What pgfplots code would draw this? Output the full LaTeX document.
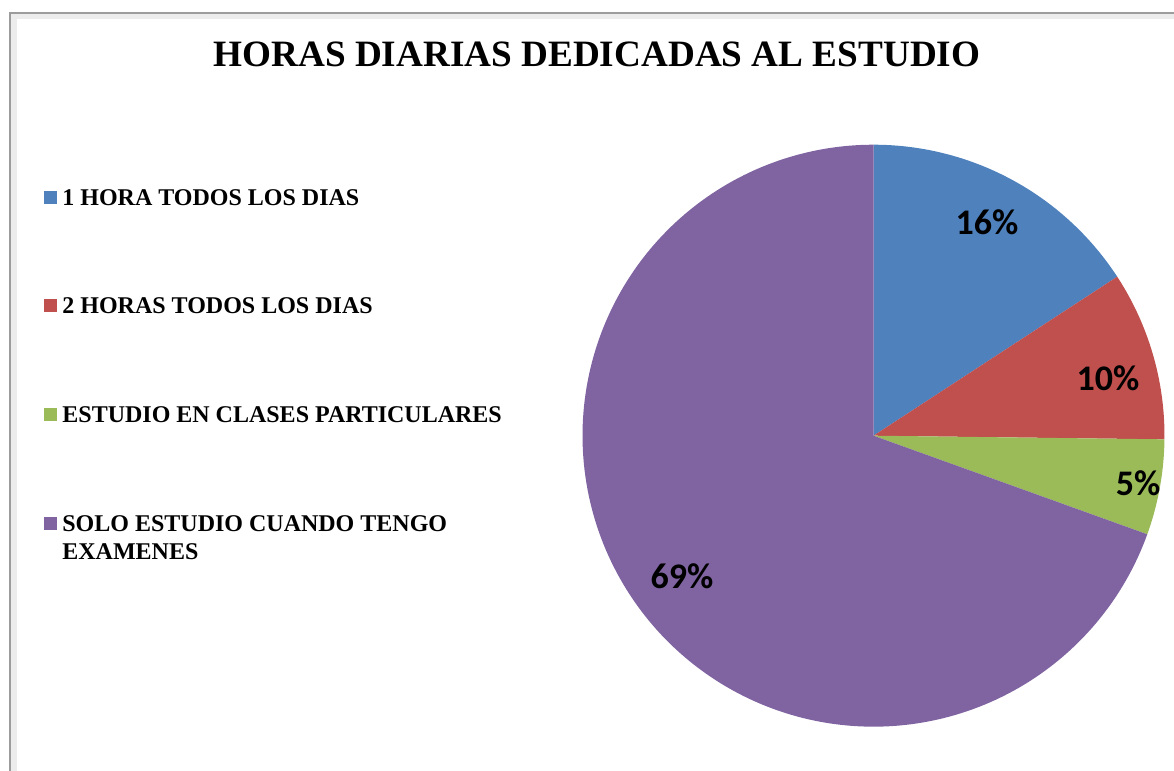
\documentclass[border=0pt]{standalone}
\usepackage{pgfplots}
\pgfplotsset{compat=1.18}
\usepackage{fontspec}
\setmainfont{Liberation Serif}
\newfontfamily\calibri{Carlito}
\definecolor{cA}{HTML}{4F81BD}
\definecolor{cB}{HTML}{C0504D}
\definecolor{cC}{HTML}{9BBB59}
\definecolor{cD}{HTML}{8064A2}
% slice shares (percent, as drawn)
\def\vA{15.8}\def\vB{9.4}\def\vC{5.3}\def\vD{69.5}
\pgfmathsetmacro\aA{90}
\pgfmathsetmacro\aB{\aA-3.6*\vA}
\pgfmathsetmacro\aC{\aB-3.6*\vB}
\pgfmathsetmacro\aD{\aC-3.6*\vC}
\pgfmathsetmacro\aE{\aD-3.6*\vD}
\begin{document}
\begin{tikzpicture}
\useasboundingbox (0,0) rectangle (587pt,385.5pt);
\begin{axis}[
  at={(0,0)}, anchor=south west,
  width=587pt, height=385.5pt, scale only axis,
  xmin=0, xmax=1174, ymin=0, ymax=771,
  hide axis, clip=false,
]
% frame
\draw[gray!15, line width=3pt] (13.5,0) -- (13.5,754.5) -- (1174,754.5);
\draw[gray!70!black!60, line width=1pt] (10,0) -- (10,758) -- (1174,758);
% pie slices
\addplot[fill=cA, draw=none, domain=\aB:\aA, samples=80]
  ({873.5+291*cos(x)},{335.3+291*sin(x)}) -- (873.5,335.3) -- cycle;
\addplot[fill=cB, draw=none, domain=\aC:\aB, samples=60]
  ({873.5+291*cos(x)},{335.3+291*sin(x)}) -- (873.5,335.3) -- cycle;
\addplot[fill=cC, draw=none, domain=\aD:\aC, samples=40]
  ({873.5+291*cos(x)},{335.3+291*sin(x)}) -- (873.5,335.3) -- cycle;
\addplot[fill=cD, draw=none, domain=\aE:\aD, samples=200]
  ({873.5+291*cos(x)},{335.3+291*sin(x)}) -- (873.5,335.3) -- cycle;
% legend squares
\addplot[fill=cA, draw=none] coordinates {(44,567) (57,567) (57,580) (44,580)} -- cycle;
\addplot[fill=cB, draw=none] coordinates {(44,459) (57,459) (57,472) (44,472)} -- cycle;
\addplot[fill=cC, draw=none] coordinates {(44,350) (57,350) (57,363) (44,363)} -- cycle;
\addplot[fill=cD, draw=none] coordinates {(44,241) (57,241) (57,254) (44,254)} -- cycle;
% title
\node[anchor=base, font=\bfseries\fontsize{18.6}{20}\selectfont, inner sep=0pt] at (597,704) {HORAS DIARIAS DEDICADAS AL ESTUDIO};
% legend text
\begin{scope}[every node/.style={anchor=base west, inner sep=0pt, font=\bfseries\fontsize{12}{13}\selectfont}]
\node at (62,565) {1 HORA TODOS LOS DIAS};
\node at (62,457) {2 HORAS TODOS LOS DIAS};
\node at (62,348) {ESTUDIO EN CLASES PARTICULARES};
\node at (62,239) {SOLO ESTUDIO CUANDO TENGO};
\node at (62,211) {EXAMENES};
\end{scope}
% data labels
\begin{scope}[every node/.style={anchor=center, inner sep=0pt, font=\calibri\bfseries\fontsize{18}{20}\selectfont}]
\node at (987,549) {16\%};
\node at (1108,393) {10\%};
\node at (1138,288) {5\%};
\node at (682,195) {69\%};
\end{scope}
\end{axis}
\end{tikzpicture}
\end{document}
